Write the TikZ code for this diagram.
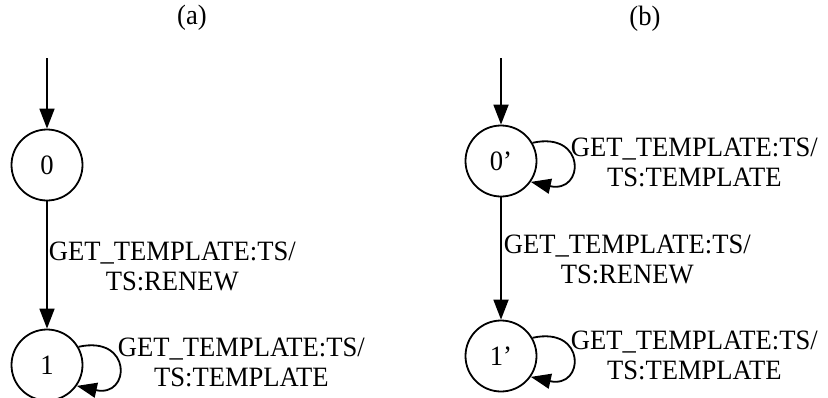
\documentclass[tikz,border=0pt]{standalone}
\usepackage{fontspec}
\newfontfamily\lblfont[FakeStretch=0.95]{Liberation Serif}
\usetikzlibrary{arrows.meta}

\begin{document}
\begin{tikzpicture}[x=1pt, y=-1pt, line width=1.8pt,
  >={Triangle[length=20pt,width=15pt]},
  every node/.style = {font=\lblfont\fontsize{28}{30}\selectfont,
    inner sep=0pt},
  state/.style = {shape=circle, draw, minimum size=71pt},
  lbl/.style = {align=center, anchor=north west}]
  \useasboundingbox (0,0) rectangle (828,397);
  \node (capa) at (192,18) {(a)};
  \node (capb) at (645,19) {(b)};
  % (a)
  \coordinate (inita) at (47,58);
  \node[state] (s0) at (47,165) {0};
  \node[state] (s1) at (47,365) {1};
  \draw[->] (inita) -- (s0);
  \draw[->] (s0) -- (s1);
  \draw[->] (s1.30) .. controls +(54,-12) and +(54,12) .. (s1.-35);
  \node[lbl] (l01) at (48,241) {GET\_TEMPLATE:TS/\\TS:RENEW};
  \node[lbl] (l11) at (117,337) {GET\_TEMPLATE:TS/\\TS:TEMPLATE};
  % (b)
  \coordinate (initb) at (501,58);
  \node[state] (t0) at (501,161) {0’};
  \node[state] (t1) at (501,356) {1’};
  \draw[->] (initb) -- (t0);
  \draw[->] (t0) -- (t1);
  \draw[->] (t0.30) .. controls +(54,-12) and +(54,12) .. (t0.-35);
  \draw[->] (t1.30) .. controls +(54,-12) and +(54,12) .. (t1.-35);
  \node[lbl] (l00b) at (570,137) {GET\_TEMPLATE:TS/\\TS:TEMPLATE};
  \node[lbl] (l01b) at (503,234) {GET\_TEMPLATE:TS/\\TS:RENEW};
  \node[lbl] (l11b) at (570,330) {GET\_TEMPLATE:TS/\\TS:TEMPLATE};
\end{tikzpicture}
\end{document}
